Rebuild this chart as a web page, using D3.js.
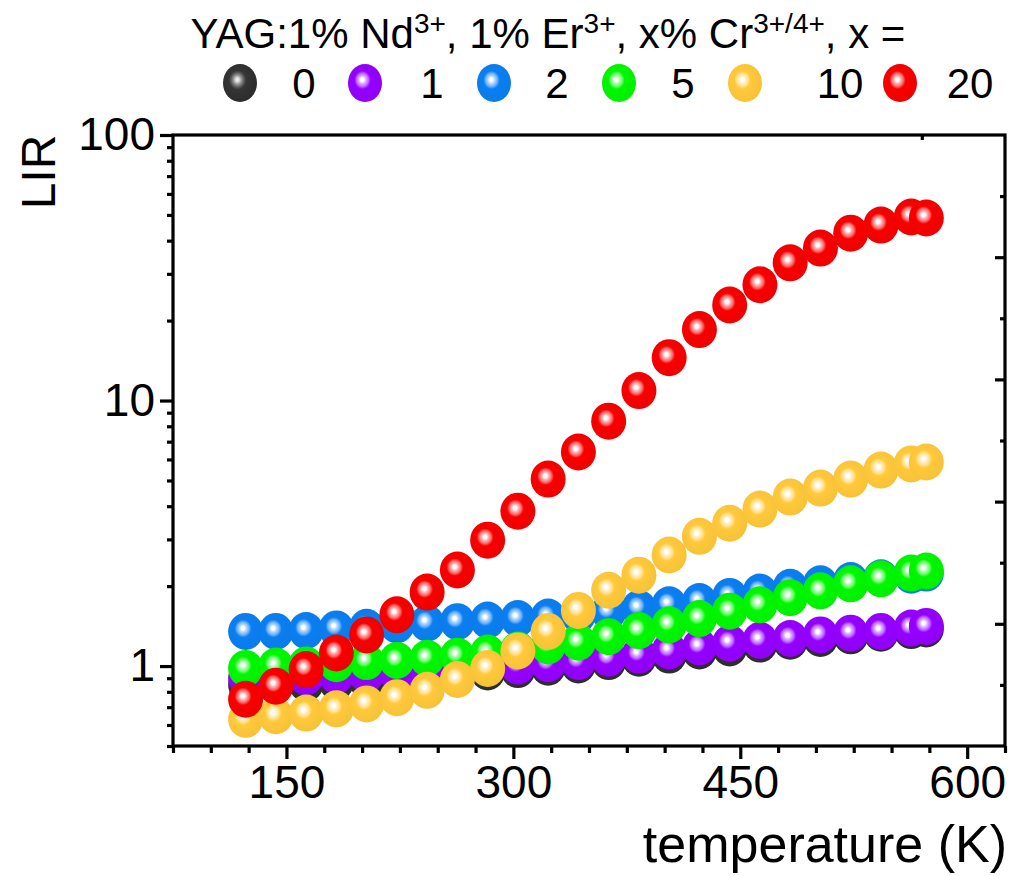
<!DOCTYPE html>
<html>
<head>
<meta charset="utf-8">
<script src="https://cdn.jsdelivr.net/npm/d3@7"></script>
<style>
  html, body { margin: 0; padding: 0; background: #ffffff; }
  svg { display: block; }
  text { font-family: "Liberation Sans", Arial, sans-serif; fill: #000; }
</style>
</head>
<body>
<svg id="chart" width="1013" height="876"></svg>
<script>
// Measurement temperatures (K)
const temperatures = [123, 143, 163, 183, 203, 223, 243, 263, 283, 303, 323, 343,
                      363, 383, 403, 423, 443, 463, 483, 503, 523, 543, 563, 573];

// LIR values for each Cr content (x %)
const lirCr0  = [0.85, 0.85, 0.86, 0.87, 0.88, 0.89, 0.91, 0.93, 0.95, 0.97, 0.99, 1.01,
                 1.04, 1.07, 1.10, 1.14, 1.17, 1.21, 1.24, 1.27, 1.30, 1.33, 1.36, 1.38];
const lirCr1  = [0.90, 0.90, 0.91, 0.92, 0.93, 0.94, 0.96, 0.97, 0.99, 1.00, 1.02, 1.04,
                 1.07, 1.10, 1.14, 1.18, 1.22, 1.25, 1.27, 1.31, 1.33, 1.35, 1.39, 1.41];
const lirCr2  = [1.35, 1.35, 1.36, 1.38, 1.40, 1.43, 1.45, 1.47, 1.49, 1.51, 1.53, 1.56,
                 1.60, 1.65, 1.70, 1.75, 1.83, 1.90, 1.98, 2.04, 2.10, 2.15, 2.20, 2.24];
const lirCr5  = [0.98, 1.00, 1.01, 1.02, 1.04, 1.05, 1.07, 1.09, 1.12, 1.15, 1.19, 1.23,
                 1.29, 1.36, 1.43, 1.51, 1.61, 1.70, 1.81, 1.92, 2.04, 2.13, 2.24, 2.28];
const lirCr10 = [0.63, 0.65, 0.665, 0.69, 0.72, 0.76, 0.81, 0.89, 0.98, 1.14, 1.35, 1.62,
                 1.93, 2.20, 2.62, 3.08, 3.45, 3.90, 4.33, 4.68, 5.06, 5.47, 5.77, 5.87];
const lirCr20 = [0.75, 0.84, 0.97, 1.12, 1.31, 1.56, 1.90, 2.30, 2.98, 3.83, 5.06, 6.40,
                 8.36, 10.9, 14.5, 18.5, 22.9, 27.3, 33.0, 37.5, 42.7, 45.8, 49.1, 48.7];

const crContents = ["0", "1", "2", "5", "10", "20"];
const seriesValues = [lirCr0, lirCr1, lirCr2, lirCr5, lirCr10, lirCr20];
const seriesColors = ["#353535", "#9500ff", "#0a7ff2", "#00f800", "#ffc93a", "#f80000"];

const xTickLabels = [150, 300, 450, 600];
const yTickLabels = [1, 10, 100];

// Layout
const svg = d3.select("#chart");
const plot = { left: 173, right: 1005, top: 135, bottom: 746 };
const fontStack = '"Liberation Sans", Arial, sans-serif';

const x = d3.scaleLinear().domain([75, 625]).range([plot.left, plot.right]);
const y = d3.scaleLog().domain([0.5, 100]).range([plot.bottom, plot.top]);
// Mirror scale for the right-hand frame ticks
const yRight = d3.scaleLinear().domain([0, 10]).range([plot.bottom, plot.top]);

// Sphere-shaded marker fills
const defs = svg.append("defs");
seriesColors.forEach((c, i) => {
  const isDark = i === 0;
  const g = defs.append("radialGradient")
    .attr("id", "ball" + i)
    .attr("cx", 0.44).attr("cy", 0.44).attr("r", 0.6)
    .attr("fx", 0.42).attr("fy", 0.41);
  const light = (t) => d3.interpolateRgb(c, "#ffffff")(t);
  const stops = isDark
    ? [[0, "#f2f2f2"], [0.09, "#dddddd"], [0.19, "#9a9a9a"], [0.32, "#5a5a5a"], [0.42, c], [1, "#2b2b2b"]]
    : [[0, "#ffffff"], [0.08, "#ffffff"], [0.16, light(0.72)], [0.29, light(0.4)], [0.4, c], [1, d3.interpolateRgb(c, "#000")(0.04)]];
  stops.forEach(([o, col]) => g.append("stop").attr("offset", o).attr("stop-color", col));
});

// Data markers (series drawn in order, later ones on top)
const markers = svg.append("g");
seriesValues.forEach((vals, si) => {
  markers.append("g").selectAll("ellipse")
    .data(vals.map((v, k) => ({ t: temperatures[k], v })))
    .join("ellipse")
    .attr("cx", d => x(d.t))
    .attr("cy", d => y(d.v))
    .attr("rx", 17.5)
    .attr("ry", 18.5)
    .attr("fill", `url(#ball${si})`);
});

// Axes
const axisG = svg.append("g");
const frameW = 3.2;

// Left axis: major and minor log ticks, outward
const yMinor = [];
for (let d = 0.1; d <= 10; d *= 10) {
  for (let m = 2; m <= 9; m++) {
    const v = +(m * d).toPrecision(3);
    if (v >= 0.5 && v <= 100) yMinor.push(v);
  }
}
axisG.append("g").attr("transform", `translate(${plot.left},0)`)
  .call(d3.axisLeft(y).tickValues(yMinor).tickSize(6).tickFormat(""));
axisG.append("g").attr("transform", `translate(${plot.left},0)`)
  .call(d3.axisLeft(y).tickValues(yTickLabels).tickSize(13).tickPadding(5).tickFormat(d3.format("d")));

// Bottom axis: majors every 150 K, minors every 25 K, outward
const xMinor = d3.range(75, 626, 25).filter(v => !xTickLabels.includes(v));
axisG.append("g").attr("transform", `translate(0,${plot.bottom})`)
  .call(d3.axisBottom(x).tickValues(xMinor).tickSize(7).tickFormat(""));
axisG.append("g").attr("transform", `translate(0,${plot.bottom})`)
  .call(d3.axisBottom(x).tickValues(xTickLabels).tickSize(13).tickPadding(6).tickFormat(d3.format("d")));

// Right axis: inward ticks, long on even steps
const rightMinor = [1, 3, 5, 7, 9];
const rightMajor = [2, 4, 6, 8];
axisG.append("g").attr("transform", `translate(${plot.right},0)`)
  .call(d3.axisLeft(yRight).tickValues(rightMinor).tickSize(5).tickFormat(""));
axisG.append("g").attr("transform", `translate(${plot.right},0)`)
  .call(d3.axisLeft(yRight).tickValues(rightMajor).tickSize(10).tickFormat(""));

// Top axis: inward tick
const topTicks = [570];
axisG.append("g").attr("transform", `translate(0,${plot.top})`)
  .call(d3.axisBottom(x).tickValues(topTicks).tickSize(5).tickFormat(""));

axisG.selectAll(".domain").remove();
axisG.selectAll(".tick line").attr("stroke", "#000").attr("stroke-width", 3.2);
axisG.selectAll(".tick text")
  .attr("font-family", fontStack)
  .attr("font-size", 46)
  .attr("fill", "#000");

// Frame
axisG.append("rect")
  .attr("x", plot.left).attr("y", plot.top)
  .attr("width", plot.right - plot.left).attr("height", plot.bottom - plot.top)
  .attr("fill", "none").attr("stroke", "#000").attr("stroke-width", frameW);

// Axis titles
svg.append("text")
  .attr("x", plot.right + 2).attr("y", 862)
  .attr("text-anchor", "end")
  .attr("font-size", 52)
  .text("temperature (K)");

svg.append("text")
  .attr("transform", `translate(55,172) rotate(-90)`)
  .attr("text-anchor", "middle")
  .attr("font-size", 48)
  .text("LIR");

// Legend title with superscripts
const title = svg.append("text")
  .attr("x", 548).attr("y", 48)
  .attr("text-anchor", "middle")
  .attr("font-size", 42);
const supShift = 15;
const parts = [
  ["YAG:1% Nd", false], ["3+", true], [", 1% Er", false], ["3+", true],
  [", x% Cr", false], ["3+/4+", true], [", x =", false]
];
let prevSup = false;
parts.forEach(([txt, sup]) => {
  const dy = sup && !prevSup ? -supShift : (!sup && prevSup ? supShift : 0);
  title.append("tspan")
    .attr("dy", dy)
    .attr("font-size", sup ? 28 : 42)
    .text(txt);
  prevSup = sup;
});

// Legend entries
const legendMarkerX = [240, 365, 494, 619, 745, 900];
const legendLabelX = [304, 432, 557, 683, 840, 970];
const legendY = 83;
const legend = svg.append("g");
crContents.forEach((lab, i) => {
  legend.append("ellipse")
    .attr("cx", legendMarkerX[i]).attr("cy", legendY)
    .attr("rx", 17).attr("ry", 19)
    .attr("fill", `url(#ball${i})`);
  legend.append("text")
    .attr("x", legendLabelX[i]).attr("y", legendY + 15)
    .attr("text-anchor", "middle")
    .attr("font-size", 42)
    .text(lab);
});
</script>
</body>
</html>
